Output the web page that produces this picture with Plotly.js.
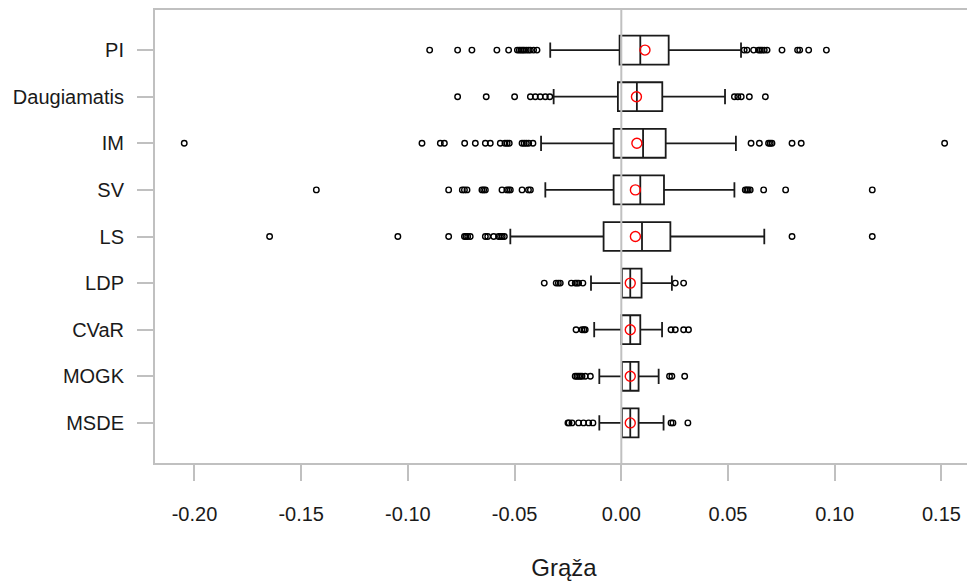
<!DOCTYPE html>
<html>
<head>
<meta charset="utf-8">
<script src="https://cdn.plot.ly/plotly-3.0.1.min.js"></script>
<style>
html, body { margin: 0; padding: 0; overflow: hidden; background: #fff; }
#chart { width: 975px; height: 587px; }
</style>
</head>
<body>
<div id="chart"></div>
<script>
// Categories listed top to bottom
const categories = ["PI", "Daugiamatis", "IM", "SV", "LS", "LDP", "CVaR", "MOGK", "MSDE"];

// Box statistics (same order as categories)
const lowerWhisker = [-0.0333, -0.0317, -0.0376, -0.0356, -0.0520, -0.0142, -0.0127, -0.0103, -0.0103];
const q1Values     = [-0.0008, -0.0016, -0.0036, -0.0036, -0.0083,  0.0003,  0.0000,  0.0003,  0.0003];
const medianValues = [ 0.0089,  0.0073,  0.0102,  0.0089,  0.0097,  0.0042,  0.0042,  0.0042,  0.0042];
const q3Values     = [ 0.0222,  0.0192,  0.0208,  0.0200,  0.0230,  0.0095,  0.0089,  0.0081,  0.0081];
const upperWhisker = [ 0.0561,  0.0486,  0.0537,  0.0530,  0.0670,  0.0237,  0.0191,  0.0175,  0.0198];
const meanValues   = [ 0.0111,  0.0071,  0.0073,  0.0066,  0.0066,  0.0042,  0.0042,  0.0042,  0.0042];

// Outliers per category
const outPI = [-0.0898, -0.0767, -0.0700, -0.0583, -0.0528, -0.0487, -0.0478, -0.0470, -0.0462, -0.0455, -0.0445, -0.0435, -0.0426, -0.0411, -0.0395,
               0.0576, 0.0589, 0.0620, 0.0643, 0.0651, 0.0659, 0.0670, 0.0683, 0.0753, 0.0826, 0.0836, 0.0878, 0.0961];
const outDaugiamatis = [-0.0767, -0.0633, -0.0500, -0.0426, -0.0403, -0.0380, -0.0356, -0.0335,
               0.0530, 0.0546, 0.0562, 0.0600, 0.0675];
const outIM = [-0.2048, -0.0934, -0.0848, -0.0829, -0.0734, -0.0684, -0.0637, -0.0614, -0.0567, -0.0545, -0.0535, -0.0525, -0.0465, -0.0455, -0.0445, -0.0434, -0.0414,
               0.0608, 0.0647, 0.0690, 0.0698, 0.0706, 0.0800, 0.0843, 0.1515];
const outSV = [-0.1429, -0.0809, -0.0745, -0.0735, -0.0723, -0.0653, -0.0645, -0.0637, -0.0559, -0.0536, -0.0528, -0.0520, -0.0465, -0.0435, -0.0426,
               0.0581, 0.0588, 0.0595, 0.0604, 0.0667, 0.0770, 0.1176];
const outLS = [-0.1648, -0.1047, -0.0809, -0.0735, -0.0728, -0.0720, -0.0708, -0.0637, -0.0626, -0.0598, -0.0575, -0.0566, -0.0558, -0.0548,
               0.0800, 0.1176];
const outLDP = [-0.0361, -0.0305, -0.0295, -0.0286, -0.0234, -0.0216, -0.0208, -0.0200, -0.0180, 0.0253, 0.0292];
const outCVaR = [-0.0212, -0.0184, -0.0175, -0.0169, 0.0233, 0.0253, 0.0292, 0.0315];
const outMOGK = [-0.0216, -0.0208, -0.0200, -0.0192, -0.0184, -0.0169, -0.0145, 0.0226, 0.0237, 0.0297];
const outMSDE = [-0.0250, -0.0245, -0.0231, -0.0200, -0.0177, -0.0153, -0.0133, 0.0233, 0.0242, 0.0312];
const outliers = [outPI, outDaugiamatis, outIM, outSV, outLS, outLDP, outCVaR, outMOGK, outMSDE];

// X axis ticks
const xTickValues = [-0.20, -0.15, -0.10, -0.05, 0.00, 0.05, 0.10, 0.15];
const xTickLabels = ["-0.20", "-0.15", "-0.10", "-0.05", "0.00", "0.05", "0.10", "0.15"];
const xTitle = "Grąža";

// positions: top category gets the highest value
const n = categories.length;
const positions = categories.map((c, i) => n - i);

const outX = [], outY = [];
outliers.forEach((arr, i) => arr.forEach(v => { outX.push(v); outY.push(positions[i]); }));

const font = "Liberation Sans, Arial, sans-serif";
const gray = "#c0c0c0";

const traces = [
  {
    type: "box",
    orientation: "h",
    y: positions,
    q1: q1Values,
    median: medianValues,
    q3: q3Values,
    lowerfence: lowerWhisker,
    upperfence: upperWhisker,
    width: 0.62,
    whiskerwidth: 0.53,
    boxpoints: false,
    fillcolor: "rgba(255,255,255,0)",
    line: { color: "#1a1a1a", width: 1.8 },
    hoverinfo: "skip",
    showlegend: false
  },
  {
    type: "scatter",
    mode: "markers",
    x: outX,
    y: outY,
    marker: { symbol: "circle-open", size: 5.5, color: "#000000", line: { width: 1.4, color: "#000000" } },
    hoverinfo: "skip",
    showlegend: false
  },
  {
    type: "scatter",
    mode: "markers",
    x: meanValues,
    y: positions,
    marker: { symbol: "circle-open", size: 10, color: "#ff0000", line: { width: 1.4, color: "#ff0000" } },
    hoverinfo: "skip",
    showlegend: false
  }
];

const layout = {
  width: 975,
  height: 587,
  margin: { l: 155, r: 2, t: 10, b: 124 },
  paper_bgcolor: "#ffffff",
  plot_bgcolor: "#ffffff",
  showlegend: false,
  xaxis: {
    range: [-0.2185, 0.1648],
    tickmode: "array",
    tickvals: xTickValues,
    ticktext: xTickLabels,
    ticks: "outside",
    ticklen: 16,
    tickwidth: 2,
    tickcolor: gray,
    showline: true,
    linecolor: gray,
    linewidth: 2,
    mirror: true,
    showgrid: false,
    zeroline: false,
    ticklabelstandoff: 16,
    tickfont: { family: font, size: 20, color: "#1a1a1a" },
    title: { text: xTitle, font: { family: font, size: 24, color: "#1a1a1a" }, standoff: 35 }
  },
  yaxis: {
    range: [0.14, 9.86],
    tickmode: "array",
    tickvals: positions,
    ticktext: categories,
    ticks: "outside",
    ticklen: 16,
    tickwidth: 2,
    tickcolor: gray,
    showline: true,
    linecolor: gray,
    linewidth: 2,
    mirror: true,
    showgrid: false,
    zeroline: false,
    ticklabelstandoff: 9,
    tickfont: { family: font, size: 20, color: "#1a1a1a" }
  },
  shapes: [
    { type: "line", xref: "x", yref: "paper", x0: 0, x1: 0, y0: 0, y1: 1, layer: "above",
      line: { color: gray, width: 2 } }
  ]
};

Plotly.newPlot("chart", traces, layout, { staticPlot: true, displayModeBar: false });
</script>
</body>
</html>
